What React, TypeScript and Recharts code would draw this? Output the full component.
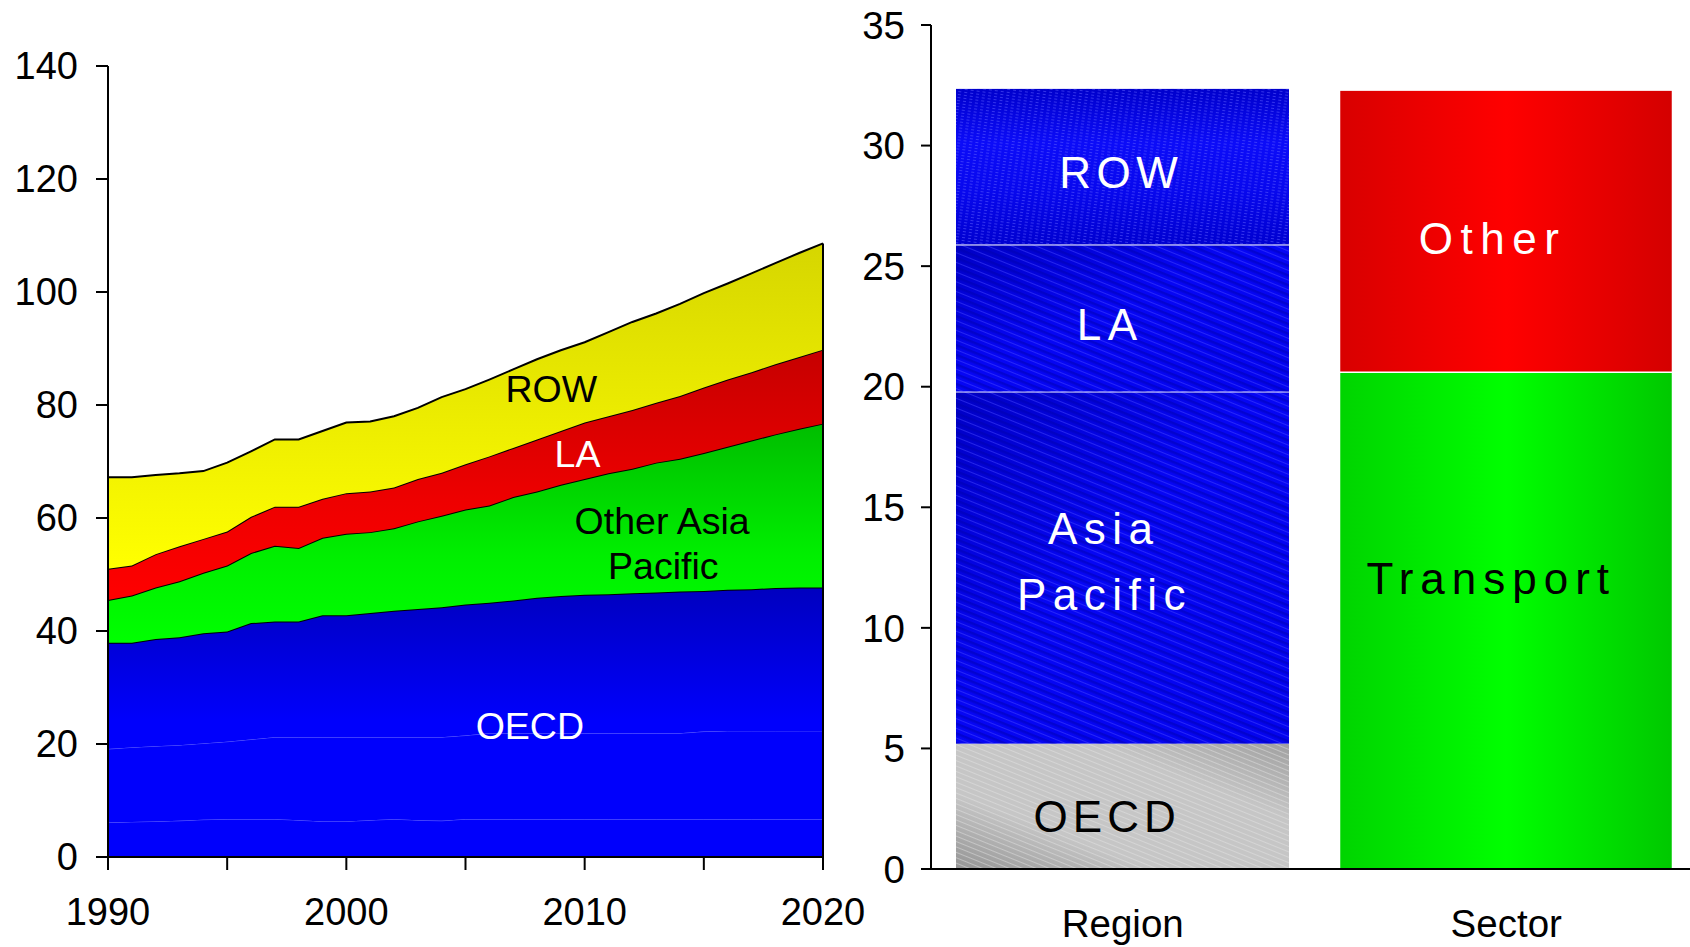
import React from 'react'
import {
  ComposedChart, Area, XAxis, YAxis, ReferenceLine, ReferenceDot,
  BarChart, Bar,
} from 'recharts'

const FONT = "'Liberation Sans', Arial, Helvetica, sans-serif"

// ---- left panel: emissions by region, 1990-2020 (stacked) ----
const years = [
  1990, 1991, 1992, 1993, 1994, 1995, 1996, 1997, 1998, 1999, 2000,
  2001, 2002, 2003, 2004, 2005, 2006, 2007, 2008, 2009, 2010,
  2011, 2012, 2013, 2014, 2015, 2016, 2017, 2018, 2019, 2020,
]
// OECD is split in three sub-bands (thin light seams between them)
const oecdBase = [6.1, 6.2, 6.3, 6.4, 6.6, 6.7, 6.7, 6.7, 6.5, 6.3, 6.3, 6.5, 6.7, 6.5, 6.4, 6.7, 6.7, 6.7, 6.7, 6.7, 6.7, 6.7, 6.7, 6.7, 6.7, 6.7, 6.7, 6.7, 6.7, 6.7, 6.7]
const oecdMid = [13.0, 13.2, 13.3, 13.4, 13.5, 13.7, 14.1, 14.5, 14.7, 14.9, 14.9, 14.7, 14.5, 14.7, 14.8, 14.8, 15.2, 15.2, 15.2, 15.2, 15.2, 15.2, 15.2, 15.2, 15.2, 15.5, 15.6, 15.6, 15.6, 15.6, 15.6]
const oecdTop = [18.8, 18.5, 19.0, 19.1, 19.5, 19.5, 20.6, 20.5, 20.5, 21.6, 21.6, 22.0, 22.4, 22.7, 23.0, 23.2, 23.1, 23.5, 24.0, 24.3, 24.5, 24.6, 24.8, 24.9, 25.1, 24.9, 25.0, 25.1, 25.3, 25.4, 25.4]
const otherAsia = [7.6, 8.4, 9.1, 9.9, 10.7, 11.7, 12.4, 13.4, 13.0, 13.7, 14.4, 14.3, 14.6, 15.5, 16.2, 16.8, 17.2, 18.3, 18.8, 19.7, 20.5, 21.4, 22.0, 23.0, 23.5, 24.4, 25.3, 26.3, 27.2, 28.1, 29.0]
const latinAmerica = [5.5, 5.3, 5.9, 6.2, 6.0, 6.0, 6.4, 6.9, 7.3, 6.9, 7.2, 7.2, 7.2, 7.5, 7.6, 8.0, 8.7, 8.7, 9.2, 9.5, 10.0, 10.1, 10.4, 10.6, 11.1, 11.6, 11.9, 12.1, 12.4, 12.7, 13.1]
const restOfWorld = [16.2, 15.6, 14.0, 12.9, 12.0, 12.2, 11.6, 11.9, 11.9, 12.0, 12.5, 12.4, 12.6, 12.6, 13.4, 13.3, 13.6, 13.9, 14.2, 14.3, 14.2, 14.9, 15.6, 15.8, 16.3, 16.7, 17.0, 17.5, 17.9, 18.4, 18.8]

const yearTicks = [1990, 1995, 2000, 2005, 2010, 2015, 2020]
const leftTicks = [0, 20, 40, 60, 80, 100, 120, 140]

// ---- right panel: 2020 increment split by region and by sector ----
const regionNames = ['OECD', 'Asia Pacific', 'LA', 'ROW']
const regionValues = [5.2, 14.6, 6.1, 6.45]
const sectorNames = ['Transport', 'Other']
const sectorValues = [20.6, 11.7]
const rightTicks = [0, 5, 10, 15, 20, 25, 30, 35]

const areaRows = years.map((year, i) => ({
  year,
  oecdBase: oecdBase[i],
  oecdMid: oecdMid[i],
  oecdTop: oecdTop[i],
  otherAsia: otherAsia[i],
  la: latinAmerica[i],
  row: restOfWorld[i],
}))
const last = years.length - 1
const total2020 = oecdBase[last] + oecdMid[last] + oecdTop[last] + otherAsia[last] + latinAmerica[last] + restOfWorld[last]

const barRows = [
  {
    cat: 'Region',
    oecd: regionValues[0], asia: regionValues[1], la: regionValues[2], row: regionValues[3],
    transport: 0, other: 0,
  },
  {
    cat: 'Sector',
    oecd: 0, asia: 0, la: 0, row: 0,
    transport: sectorValues[0], other: sectorValues[1],
  },
]

function Tag(props: any) {
  const { viewBox, text, color, size, spacing = 0, dx = 0 } = props
  const vb = viewBox || { x: 0, y: 0, width: 0, height: 0 }
  const cx = vb.x + (vb.width || 0) / 2 + dx
  const cy = vb.y + (vb.height || 0) / 2
  return (
    <text
      x={cx}
      y={cy}
      dy="0.355em"
      textAnchor="middle"
      fill={color}
      fontSize={size}
      letterSpacing={spacing}
      fontFamily={FONT}
    >
      {text}
    </text>
  )
}

function texturedBar(fillId: string, overlayId?: string, topLine?: boolean, outline?: boolean) {
  return (p: any) => {
    const { x, y, width, height } = p
    if (!height || height <= 0) return <g />
    return (
      <g>
        <rect x={x} y={y} width={width} height={height} fill={`url(#${fillId})`} />
        {overlayId && <rect x={x} y={y} width={width} height={height} fill={`url(#${overlayId})`} />}
        {outline && (
          <rect x={x} y={y} width={width} height={height} fill="none" stroke="#fff" strokeWidth={1.5} />
        )}
        {topLine && <line x1={x} x2={x + width} y1={y} y2={y} stroke="#fff" strokeWidth={2} />}
      </g>
    )
  }
}

const axisStroke = { stroke: '#000', strokeWidth: 2 }
const tickFont = { fill: '#000', fontSize: 38, fontFamily: FONT }

function RegionHistory() {
  return (
    <ComposedChart
      width={880}
      height={947}
      data={areaRows}
      margin={{ top: 66, right: 57, bottom: 30, left: 48 }}
    >
      <defs>
        <linearGradient id="gBlue" gradientUnits="userSpaceOnUse" x1="0" y1="587" x2="0" y2="720">
          <stop offset="0" stopColor="#0000bf" />
          <stop offset="1" stopColor="#0000fc" />
        </linearGradient>
        <linearGradient id="gGreen" x1="0" y1="0" x2="0" y2="1">
          <stop offset="0" stopColor="#00bd00" />
          <stop offset="0.6" stopColor="#00ef00" />
          <stop offset="1" stopColor="#00ff00" />
        </linearGradient>
        <linearGradient id="gRed" x1="0" y1="0" x2="0" y2="1">
          <stop offset="0" stopColor="#c60000" />
          <stop offset="0.6" stopColor="#ee0000" />
          <stop offset="1" stopColor="#ff0000" />
        </linearGradient>
        <linearGradient id="gYellow" x1="0" y1="0" x2="0" y2="1">
          <stop offset="0" stopColor="#d6d600" />
          <stop offset="0.6" stopColor="#efef00" />
          <stop offset="1" stopColor="#ffff00" />
        </linearGradient>
      </defs>
      <XAxis
        dataKey="year"
        type="number"
        domain={[1990, 2020]}
        ticks={yearTicks}
        tickFormatter={(v: number) => (v % 10 === 0 ? String(v) : '')}
        height={60}
        axisLine={axisStroke}
        tickLine={axisStroke}
        tickSize={13}
        tickMargin={28}
        tick={tickFont}
      />
      <YAxis
        type="number"
        domain={[0, 140]}
        ticks={leftTicks}
        width={60}
        axisLine={axisStroke}
        tickLine={axisStroke}
        tickSize={12}
        tickMargin={18}
        tick={tickFont}
      />
      <Area type="linear" dataKey="oecdBase" stackId="1" fill="url(#gBlue)" fillOpacity={1}
        stroke="#7070ff" strokeOpacity={0.6} strokeWidth={1} dot={false} activeDot={false} isAnimationActive={false} />
      <Area type="linear" dataKey="oecdMid" stackId="1" fill="url(#gBlue)" fillOpacity={1}
        stroke="#7070ff" strokeOpacity={0.6} strokeWidth={1} dot={false} activeDot={false} isAnimationActive={false} />
      <Area type="linear" dataKey="oecdTop" stackId="1" fill="url(#gBlue)" fillOpacity={1}
        stroke="#000" strokeWidth={2} dot={false} activeDot={false} isAnimationActive={false} />
      <Area type="linear" dataKey="otherAsia" stackId="1" fill="url(#gGreen)" fillOpacity={1}
        stroke="#000" strokeWidth={2} dot={false} activeDot={false} isAnimationActive={false} />
      <Area type="linear" dataKey="la" stackId="1" fill="url(#gRed)" fillOpacity={1}
        stroke="#000" strokeWidth={2} dot={false} activeDot={false} isAnimationActive={false} />
      <Area type="linear" dataKey="row" stackId="1" fill="url(#gYellow)" fillOpacity={1}
        stroke="#000" strokeWidth={2} dot={false} activeDot={false} isAnimationActive={false} />
      <ReferenceLine
        segment={[{ x: 2020, y: 0 }, { x: 2020, y: total2020 }]}
        stroke="#000"
        strokeWidth={2}
      />
      <ReferenceDot x={2008.6} y={82.8} r={0} fill="none" stroke="none"
        label={<Tag text="ROW" color="#000" size={37.5} />} />
      <ReferenceDot x={2009.7} y={71.3} r={0} fill="none" stroke="none"
        label={<Tag text="LA" color="#fff" size={37.5} />} />
      <ReferenceDot x={2013.25} y={59.5} r={0} fill="none" stroke="none"
        label={<Tag text="Other Asia" color="#000" size={37.5} />} />
      <ReferenceDot x={2013.3} y={51.5} r={0} fill="none" stroke="none"
        label={<Tag text="Pacific" color="#000" size={37.5} />} />
      <ReferenceDot x={2007.7} y={23.3} r={0} fill="none" stroke="none"
        label={<Tag text="OECD" color="#fff" size={37.5} />} />
    </ComposedChart>
  )
}

function Breakdown() {
  const big = { size: 44, spacing: 6.5 }
  return (
    <BarChart
      width={848}
      height={947}
      data={barRows}
      margin={{ top: 25, right: 0, bottom: 18, left: 21 }}
      barSize={333}
    >
      <defs>
        <linearGradient id="gGray" x1="0" y1="1" x2="1" y2="0">
          <stop offset="0" stopColor="#949494" />
          <stop offset="0.3" stopColor="#c6c6c6" />
          <stop offset="0.7" stopColor="#c6c6c6" />
          <stop offset="1" stopColor="#a0a0a0" />
        </linearGradient>
        <pattern id="pGray" width="10" height="5" patternUnits="userSpaceOnUse" patternTransform="rotate(22)">
          <rect width="10" height="1" fill="#e8e8e8" opacity="0.45" />
        </pattern>
        <linearGradient id="gBlueBar" x1="0" y1="0" x2="1" y2="1">
          <stop offset="0" stopColor="#0000c4" />
          <stop offset="0.45" stopColor="#0606f4" />
          <stop offset="1" stopColor="#0404ee" />
        </linearGradient>
        <pattern id="pDiag" width="12" height="9" patternUnits="userSpaceOnUse" patternTransform="rotate(22)">
          <rect width="12" height="2.5" fill="#0000a8" opacity="0.45" />
          <rect y="5" width="12" height="1" fill="#4848ff" opacity="0.5" />
        </pattern>
        <linearGradient id="gRowBar" x1="0" y1="0" x2="0" y2="1">
          <stop offset="0" stopColor="#0000cc" />
          <stop offset="0.35" stopColor="#0c0cf8" />
          <stop offset="0.65" stopColor="#0808ee" />
          <stop offset="1" stopColor="#0000d0" />
        </linearGradient>
        <pattern id="pRow" width="6" height="3" patternUnits="userSpaceOnUse" patternTransform="rotate(8)">
          <rect width="3" height="1" fill="#5a5aff" opacity="0.55" />
        </pattern>
        <linearGradient id="gTransport" x1="0" y1="0" x2="1" y2="0">
          <stop offset="0" stopColor="#00d400" />
          <stop offset="0.5" stopColor="#00ff00" />
          <stop offset="1" stopColor="#00c800" />
        </linearGradient>
        <linearGradient id="gOther" x1="0" y1="0" x2="1" y2="0">
          <stop offset="0" stopColor="#d80000" />
          <stop offset="0.5" stopColor="#ff0000" />
          <stop offset="1" stopColor="#d40000" />
        </linearGradient>
      </defs>
      <XAxis
        dataKey="cat"
        height={60}
        axisLine={axisStroke}
        tickLine={false}
        tickSize={0}
        tickMargin={41}
        tick={{ ...tickFont, fontSize: 38.5 }}
      />
      <YAxis
        type="number"
        domain={[0, 35]}
        ticks={rightTicks}
        width={60}
        axisLine={axisStroke}
        tickLine={axisStroke}
        tickSize={10}
        tickMargin={16}
        tick={{ ...tickFont, fontSize: 38.5 }}
      />
      <Bar dataKey="oecd" name={regionNames[0]} stackId="s" isAnimationActive={false}
        shape={texturedBar('gGray', 'pGray')} />
      <Bar dataKey="asia" name={regionNames[1]} stackId="s" isAnimationActive={false}
        shape={texturedBar('gBlueBar', 'pDiag', true)} />
      <Bar dataKey="la" name={regionNames[2]} stackId="s" isAnimationActive={false}
        shape={texturedBar('gBlueBar', 'pDiag', true)} />
      <Bar dataKey="row" name={regionNames[3]} stackId="s" isAnimationActive={false}
        shape={texturedBar('gRowBar', 'pRow')} />
      <Bar dataKey="transport" name={sectorNames[0]} stackId="s" isAnimationActive={false}
        shape={texturedBar('gTransport', undefined, false, true)} />
      <Bar dataKey="other" name={sectorNames[1]} stackId="s" isAnimationActive={false}
        shape={texturedBar('gOther', undefined, false, true)} />
      <ReferenceDot x="Region" y={28.9} r={0} fill="none" stroke="none"
        label={<Tag text="ROW" color="#fff" dx={-1.6} {...big} spacing={5.5} />} />
      <ReferenceDot x="Region" y={22.57} r={0} fill="none" stroke="none"
        label={<Tag text="LA" color="#fff" dx={-12.6} {...big} />} />
      <ReferenceDot x="Region" y={14.13} r={0} fill="none" stroke="none"
        label={<Tag text="Asia" color="#fff" dx={-19} {...big} />} />
      <ReferenceDot x="Region" y={11.38} r={0} fill="none" stroke="none"
        label={<Tag text="Pacific" color="#fff" dx={-18.2} {...big} />} />
      <ReferenceDot x="Region" y={2.18} r={0} fill="none" stroke="none"
        label={<Tag text="OECD" color="#000" dx={-15.6} {...big} spacing={5} />} />
      <ReferenceDot x="Sector" y={26.15} r={0} fill="none" stroke="none"
        label={<Tag text="Other" color="#fff" dx={-13.7} {...big} spacing={7.5} />} />
      <ReferenceDot x="Sector" y={12.04} r={0} fill="none" stroke="none"
        label={<Tag text="Transport" color="#000" dx={-15} {...big} spacing={7} />} />
    </BarChart>
  )
}

export default function App() {
  return (
    <div
      style={{
        position: 'absolute', left: 0, top: 0, width: 1690, height: 947,
        overflow: 'hidden', background: '#fff',
      }}
    >
      <div style={{ position: 'absolute', left: 0, top: 0 }}>
        <RegionHistory />
      </div>
      <div style={{ position: 'absolute', left: 850, top: 0 }}>
        <Breakdown />
      </div>
    </div>
  )
}
